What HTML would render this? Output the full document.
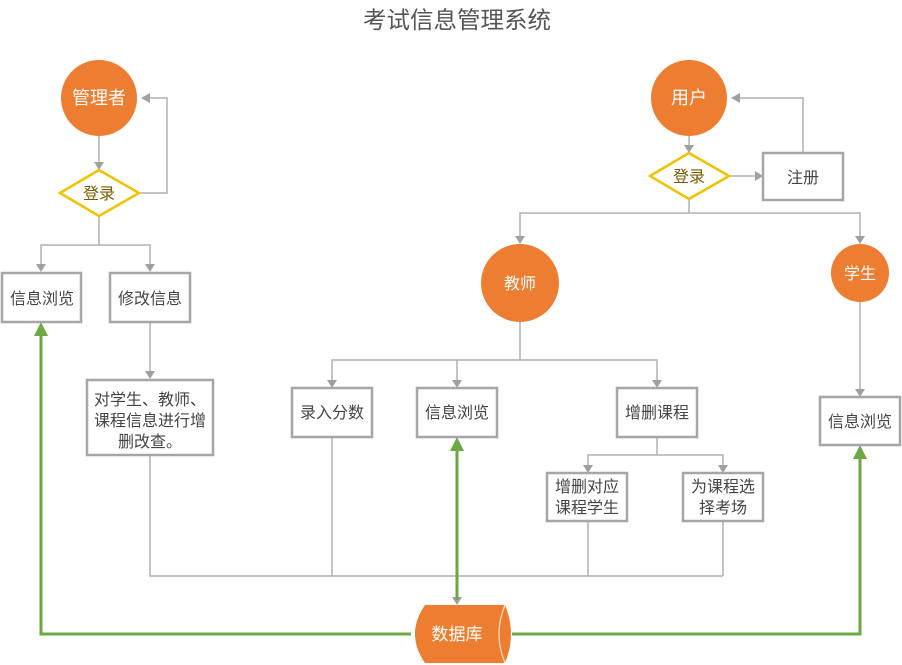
<!DOCTYPE html>
<html><head><meta charset="utf-8"><style>
html,body{margin:0;padding:0;background:#fff}
svg{display:block}
text{font-family:"Liberation Sans","Noto Sans CJK SC",sans-serif}
</style></head><body>
<svg width="902" height="665" viewBox="0 0 902 665" xmlns="http://www.w3.org/2000/svg">
<text x="457" y="28" font-size="23.5" fill="#555" text-anchor="middle">考试信息管理系统</text>
<g stroke="#b0b0b0" stroke-width="1.5" fill="none">
<line x1="99" y1="136" x2="99" y2="162"/>
<polyline points="139,193 167,193 167,98 150,98"/>
<polyline points="99,216 99,245"/>
<polyline points="41,264 41,245 150,245 150,264"/>
<line x1="150" y1="322" x2="150" y2="371"/>
<polyline points="150,455 150,576 723,576"/>
<line x1="332" y1="437" x2="332" y2="576"/>
<line x1="588" y1="521" x2="588" y2="576"/>
<line x1="723" y1="521" x2="723" y2="576"/>
<line x1="457" y1="576" x2="457" y2="598"/>
<line x1="689" y1="136" x2="689" y2="146"/>
<line x1="729" y1="176" x2="756" y2="176"/>
<polyline points="803,153 803,98 740,98"/>
<line x1="689" y1="199" x2="689" y2="213"/>
<polyline points="520,236 520,213 860,213 860,236"/>
<polyline points="520,322 520,360"/>
<polyline points="332,380 332,360 657,360 657,380"/>
<line x1="457" y1="360" x2="457" y2="380"/>
<polyline points="657,437 657,455"/>
<polyline points="588,465 588,455 723,455 723,465"/>
<line x1="860" y1="302" x2="860" y2="390"/>
</g>
<g fill="#a0a0a0">
<path d="M94,162 L104,162 L99,170 z"/>
<path d="M150,93 L150,103 L141,98 z"/>
<path d="M36,264 L46,264 L41,272 z"/>
<path d="M145,264 L155,264 L150,272 z"/>
<path d="M145,371 L155,371 L150,379 z"/>
<path d="M452,597 L462,597 L457,605 z"/>
<path d="M684,145 L694,145 L689,153 z"/>
<path d="M755,171 L755,181 L763,176 z"/>
<path d="M740,93 L740,103 L731,98 z"/>
<path d="M515,236 L525,236 L520,244 z"/>
<path d="M855,236 L865,236 L860,244 z"/>
<path d="M327,380 L337,380 L332,388 z"/>
<path d="M452,380 L462,380 L457,388 z"/>
<path d="M652,380 L662,380 L657,388 z"/>
<path d="M583,465 L593,465 L588,473 z"/>
<path d="M718,465 L728,465 L723,473 z"/>
<path d="M855,389 L865,389 L860,397 z"/>
</g>
<g stroke="#6ca843" stroke-width="3" fill="none">
<polyline points="411,634 41,634 41,334"/>
<polyline points="512,634 860,634 860,457"/>
<line x1="457" y1="449" x2="457" y2="600"/>
</g>
<g fill="#6ca843">
<path d="M34,336 L48,336 L41,322 z"/>
<path d="M853,459 L867,459 L860,445 z"/>
<path d="M450,451 L464,451 L457,437 z"/>
</g>
<g fill="#ed7d31">
<circle cx="99" cy="98" r="38"/>
<circle cx="689" cy="98" r="38"/>
<circle cx="520" cy="283" r="39"/>
<circle cx="860" cy="273" r="29"/>
</g>
<g fill="#fff" font-size="18" text-anchor="middle">
<text x="99" y="104">管理者</text>
<text x="689" y="104">用户</text>
<text x="520" y="289" font-size="16">教师</text>
<text x="860" y="279" font-size="16">学生</text>
</g>
<g fill="#fff" stroke="#f2c200" stroke-width="2.5">
<polygon points="60,193 99,170 139,193 99,216"/>
<polygon points="650,176 689,153 729,176 689,199"/>
</g>
<g fill="#7a5c00" font-size="16" text-anchor="middle">
<text x="99" y="199">登录</text>
<text x="689" y="182">登录</text>
</g>
<g fill="#fff" stroke="#a6a6a6" stroke-width="2.5">
<rect x="2" y="273" width="79" height="49"/>
<rect x="110" y="273" width="80" height="49"/>
<rect x="87" y="380" width="126" height="75"/>
<rect x="763" y="153" width="80" height="47"/>
<rect x="292" y="388" width="80" height="49"/>
<rect x="417" y="388" width="80" height="49"/>
<rect x="617" y="388" width="80" height="49"/>
<rect x="547" y="473" width="80" height="48"/>
<rect x="683" y="473" width="80" height="48"/>
<rect x="820" y="397" width="80" height="48"/>
</g>
<g fill="#444" font-size="16" text-anchor="middle">
<text x="42" y="304">信息浏览</text>
<text x="150" y="304">修改信息</text>
<text x="150" y="405">对学生、教师、</text>
<text x="150" y="426">课程信息进行增</text>
<text x="150" y="447">删改查。</text>
<text x="803" y="183">注册</text>
<text x="332" y="418">录入分数</text>
<text x="457" y="418">信息浏览</text>
<text x="657" y="418">增删课程</text>
<text x="587" y="492">增删对应</text>
<text x="587" y="513">课程学生</text>
<text x="723" y="492">为课程选</text>
<text x="723" y="513">择考场</text>
<text x="860" y="427">信息浏览</text>
</g>
<path d="M425,605 L505,605 Q517,634 505,663 L425,663 Q405,634 425,605 z" fill="#ed7d31"/>
<path d="M505,605 Q493,634 505,663" fill="none" stroke="#fde0c8" stroke-width="1.2"/>
<text x="457" y="640" fill="#fff" font-size="17" text-anchor="middle">数据库</text>
</svg>
</body></html>
